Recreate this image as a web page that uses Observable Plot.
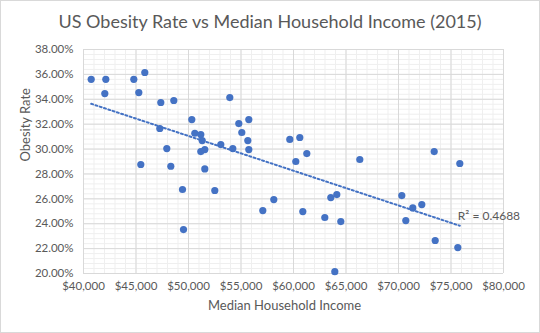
<!DOCTYPE html>
<html><head><meta charset="utf-8">
<script src="https://cdn.jsdelivr.net/npm/d3@7"></script>
<script src="https://cdn.jsdelivr.net/npm/@observablehq/plot@0.6"></script>
<style>
body{margin:0;background:#fff;}
#chart{width:540px;height:333px;box-sizing:border-box;border:1px solid #d9d9d9;background:#fff;font-family:Lato,sans-serif;overflow:hidden}
#title{height:37px;line-height:40px;text-align:center;font-size:18px;color:#595959;white-space:nowrap}
#chart svg{display:block}
</style></head><body>
<div id="chart"><div id="title">US Obesity Rate vs Median Household Income (2015)</div></div>
<script>
// Median household income ($) per state, 2015
const income = [40733, 42124, 42029, 44790, 45838, 45267, 47362, 48600, 50314, 47267,
  50600, 47933, 45457, 48314, 49429, 49524, 53933, 51171, 51305, 51171,
  51552, 53076, 54219, 54790, 55743, 55076, 55648, 55743, 59648, 60600,
  61267, 60219, 66314, 51552, 52504, 57076, 58124, 60886, 62981, 63552,
  64124, 64505, 63933, 73400, 75838, 70314, 71362, 72219, 70695, 73495, 75648];
// Obesity rate (%) per state, 2015
const obesityRate = [35.6, 35.6, 34.46, 35.6, 36.15, 34.54, 33.74, 33.9, 32.37, 31.65,
  31.27, 30.04, 28.76, 28.62, 26.75, 23.53, 34.14, 31.17, 30.68, 29.8,
  29.96, 30.36, 30.04, 32.05, 32.37, 31.33, 30.68, 29.96, 30.77, 30.93,
  29.64, 29.0, 29.16, 28.4, 26.67, 25.06, 25.94, 24.98, 24.5, 26.1,
  26.34, 24.17, 20.15, 29.8, 28.84, 26.26, 25.27, 25.54, 24.25, 22.65, 22.08];
const xTicks = [40000, 45000, 50000, 55000, 60000, 65000, 70000, 75000, 80000];
const yTicks = [20, 22, 24, 26, 28, 30, 32, 34, 36, 38];
const r2Label = "R² = 0.4688";
const xTitle = "Median Household Income";
const yTitle = "Obesity Rate";

const xMinor = d3.range(40000, 80001, 1000);
const yMinor = d3.range(20, 38.001, 0.4);

const data = income.map((x, i) => ({x, y: obesityRate[i]}));
const mx = d3.mean(income), my = d3.mean(obesityRate);
let sxy = 0, sxx = 0;
data.forEach(d => { sxy += (d.x - mx) * (d.y - my); sxx += (d.x - mx) ** 2; });
const slope = sxy / sxx, intercept = my - slope * mx;
const x0 = d3.min(income), x1 = d3.max(income);
const trend = [{x: x0, y: intercept + slope * x0}, {x: x1, y: intercept + slope * x1}];

const chart = Plot.plot({
  width: 538, height: 294,
  marginLeft: 82, marginRight: 36, marginTop: 11, marginBottom: 59,
  style: {fontFamily: "Lato, sans-serif", fontSize: "11.5px", color: "#595959", background: "transparent"},
  x: {domain: [40000, 80000]},
  y: {domain: [20, 38]},
  marks: [
    Plot.gridX(xMinor, {stroke: "#efefef", strokeOpacity: 1}),
    Plot.gridY(yMinor, {stroke: "#efefef", strokeOpacity: 1}),
    Plot.gridX(xTicks, {stroke: "#d9d9d9", strokeOpacity: 1}),
    Plot.gridY(yTicks, {stroke: "#d9d9d9", strokeOpacity: 1}),
    Plot.axisX({ticks: xTicks, tickSize: 0, tickPadding: 8, tickFormat: d => "$" + d3.format(",")(d), label: null}),
    Plot.axisY({ticks: yTicks, tickSize: 0, tickPadding: 10, tickFormat: d => d.toFixed(2) + "%", label: null}),
    Plot.dot(data, {x: "x", y: "y", r: 3.6, fill: "#4472C4"}),
    Plot.line(trend, {x: "x", y: "y", stroke: "#4472C4", strokeWidth: 2, strokeDasharray: "2,2.5"}),
    Plot.text([r2Label], {x: () => x1, y: () => trend[1].y, text: d => d, textAnchor: "start", dx: -2, dy: -10, fill: "#595959", fontSize: 12}),
    Plot.text([xTitle], {frameAnchor: "bottom", text: d => d, dy: 36, dx: -9, fontSize: 13, fill: "#595959"}),
    Plot.text([yTitle], {frameAnchor: "left", text: d => d, rotate: -90, dx: -58, fontSize: 13, fill: "#595959"})
  ]
});
document.getElementById("chart").appendChild(chart);
</script>
</body></html>
